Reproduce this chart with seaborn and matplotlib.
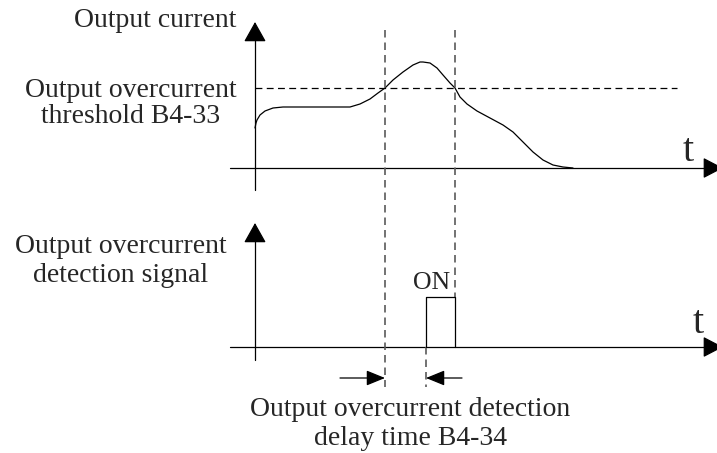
import numpy as np
import pandas as pd
import matplotlib
matplotlib.use("Agg")
import matplotlib.pyplot as plt
import seaborn as sns

# ************* DATA ****************************************
# time is measured from the axis origin, current from the top baseline
curve_time = [0, 1, 2, 5, 10, 18, 28, 45, 62, 82, 95, 105, 115, 123, 130, 138, 148,
              158, 165, 168, 175, 182, 188, 195, 200, 205, 212, 222, 235, 248, 258,
              268, 278, 288, 298, 308, 318]
curve_current = [40, 45, 48, 53, 57, 60, 61, 61, 61, 61, 61, 64, 69, 75, 80, 88, 96,
                 103, 106, 106, 105, 100, 93, 85, 80, 71, 64, 57, 50, 43, 36,
                 26, 16, 8, 3, 1, 0]
threshold = 80
cross_times = [130, 200]          # current crosses the threshold
signal_time = [171, 171, 200, 200]  # detection signal: ON after the delay
signal_level = [0, 1, 1, 0]

current_label = "Output current"
signal_label = ["Output overcurrent", "detection signal"]
threshold_label = ["Output overcurrent", "threshold B4-33"]
delay_label = ["Output overcurrent detection", "delay time B4-34"]

# ************* LAYOUT *****************
origin_px = 255       # x pixel of t = 0
top_base = 168        # y pixel of top time axis
bot_base = 347        # y pixel of bottom time axis
pulse_h = 50          # pulse height in pixels
t_end = 717 - origin_px

sns.set_theme(style="white")
plt.rcParams["font.family"] = ["Liberation Serif", "DejaVu Serif"]

fig = plt.figure(figsize=(7.17, 4.53), dpi=100)
ax = fig.add_axes([0, 0, 1, 1])
ax.set_xlim(-origin_px, 717 - origin_px)
ax.set_ylim(453, 0)
ax.axis("off")

lw = 0.9
k = "black"


def arrow(x0, y0, x1, y1, hl, hw):
    ax.annotate("", xy=(x1, y1), xytext=(x0, y0), annotation_clip=False,
                arrowprops=dict(arrowstyle=f"-|>,head_length={hl},head_width={hw}",
                                mutation_scale=10, shrinkA=0, shrinkB=0,
                                lw=lw, color=k))


# axes of both panels
for base, top, bottom in [(top_base, 22, 190), (bot_base, 223, 360)]:
    ax.plot([-25, t_end - 10], [base, base], color=k, lw=lw)
    arrow(t_end - 12, base, t_end + 6, base, 1.25, 0.65)
    ax.plot([0, 0], [bottom, top + 10], color=k, lw=lw)
    arrow(0, top + 17, 0, top, 1.25, 0.7)

# output current curve
df = pd.DataFrame({"t": curve_time, "y": [top_base - c for c in curve_current]})
sns.lineplot(data=df, x="t", y="y", sort=False, color=k, lw=lw, ax=ax)

# threshold line
ax.plot([0, 422], [top_base - threshold] * 2, color=k, lw=0.9,
        linestyle=(0, (5.5, 3.5)))

# vertical dashed guides
gray = "#5a5a5a"
ax.plot([cross_times[0]] * 2, [30, 387], color=gray, lw=1.2, linestyle=(0, (4.5, 3)))
ax.plot([cross_times[1]] * 2, [30, bot_base - pulse_h], color=gray, lw=1.2,
        linestyle=(0, (4.5, 3)))
ax.plot([signal_time[0]] * 2, [bot_base, 387], color=gray, lw=1.2,
        linestyle=(0, (4.5, 3)))

# detection signal pulse
ax.plot(signal_time, [bot_base - pulse_h * s for s in signal_level], color=k, lw=lw)
ax.text(np.mean(signal_time[1:3]) - 9, 289, "ON", fontsize=18.5, ha="center",
        va="baseline")

# delay arrows
arrow(cross_times[0] - 45, 378, cross_times[0], 378, 1.15, 0.47)
arrow(signal_time[0] + 36, 378, signal_time[0], 378, 1.15, 0.47)

# texts
fs = 20
ax.text(236 - origin_px, 27, current_label, fontsize=fs, ha="right", va="baseline")
for line, y in zip(threshold_label, [97, 123]):
    ax.text(131 - origin_px, y, line, fontsize=fs, ha="center", va="baseline")
for line, y in zip(signal_label, [253, 282]):
    ax.text(121 - origin_px, y, line, fontsize=fs, ha="center", va="baseline")
for line, y in zip(delay_label, [416, 445]):
    ax.text(410 - origin_px, y, line, fontsize=fs, ha="center", va="baseline")
ax.text(688 - origin_px, 161, "t", fontsize=29, ha="center", va="baseline")
ax.text(698 - origin_px, 333, "t", fontsize=29, ha="center", va="baseline")

plt.savefig("out.png", dpi=100)
